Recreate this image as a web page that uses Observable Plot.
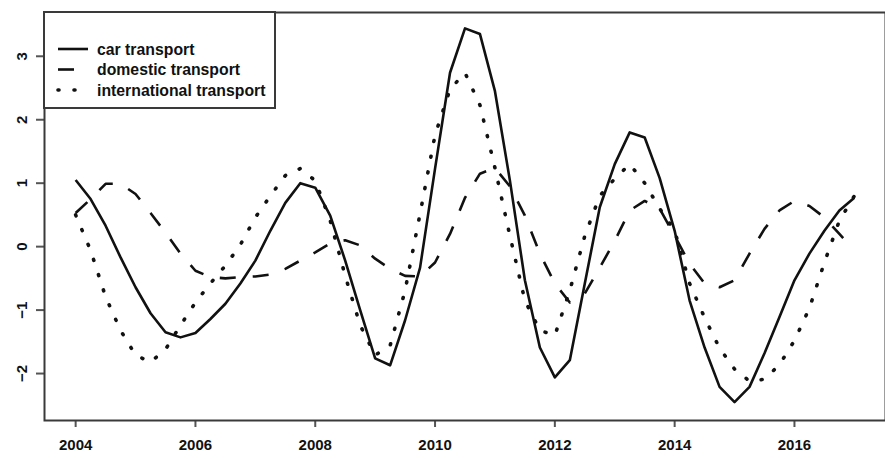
<!DOCTYPE html>
<html><head><meta charset="utf-8">
<script src="https://cdn.jsdelivr.net/npm/d3@7"></script>
<script src="https://cdn.jsdelivr.net/npm/@observablehq/plot@0.6"></script>
<style>body{margin:0;background:#fff} #chart svg{display:block}</style>
</head><body><div id="chart"></div>
<script>
// quarterly index, 2004 Q1 .. 2017 Q1
const quarters = d3.range(0, 53).map(i => 2004 + i / 4);

const car = [
  1.05, 0.75, 0.33, -0.17,
  -0.64, -1.05, -1.35, -1.43,
  -1.36, -1.14, -0.90, -0.58,
  -0.22, 0.25, 0.69, 1.00,
  0.93, 0.49, -0.22, -1.00,
  -1.76, -1.87, -1.16, -0.33,
  1.23, 2.74, 3.44, 3.35,
  2.45, 1.04, -0.53, -1.59,
  -2.06, -1.79, -0.58, 0.62,
  1.30, 1.80, 1.72, 1.08,
  0.25, -0.85, -1.59, -2.21,
  -2.45, -2.21, -1.68, -1.11,
  -0.53, -0.11, 0.25, 0.57,
  0.77
];
const domestic = [
  0.53, 0.75, 0.99, 0.99,
  0.83, 0.53, 0.22, -0.11,
  -0.38, -0.48, -0.50, -0.48,
  -0.47, -0.44, -0.35, -0.22,
  -0.09, 0.05, 0.10, 0.02,
  -0.19, -0.35, -0.46, -0.47,
  -0.25, 0.20, 0.77, 1.15,
  1.24, 0.95, 0.49, -0.11,
  -0.58, -0.88, -0.74, -0.33,
  0.09, 0.57, 0.72, 0.60,
  0.17, -0.27, -0.58, -0.64,
  -0.53, -0.11, 0.28, 0.57,
  0.72, 0.64, 0.46, 0.20,
  -0.06
];
const international = [
  0.50, -0.06, -0.79, -1.32,
  -1.71, -1.82, -1.62, -1.24,
  -0.88, -0.58, -0.30, 0.03,
  0.46, 0.80, 1.12, 1.23,
  1.04, 0.41, -0.46, -1.24,
  -1.71, -1.56, -0.69, 0.52,
  1.76, 2.48, 2.74, 2.23,
  1.24, 0.17, -0.85, -1.32,
  -1.40, -0.69, 0.17, 0.80,
  1.07, 1.30, 1.00, 0.60,
  0.25, -0.58, -1.12, -1.60,
  -1.93, -2.12, -2.09, -1.86,
  -1.48, -0.97, -0.25, 0.41,
  0.80
];

const seriesNames = ["car transport", "domestic transport", "international transport"];
const xTicks = [2004, 2006, 2008, 2010, 2012, 2014, 2016];
const yTicks = [-2, -1, 0, 1, 2, 3];

const styles = [
  {dash: null, cap: "butt", width: 2.6},
  {dash: "16,17", cap: "butt", width: 2.6},
  {dash: "1,15", cap: "round", width: 3.6}
];

const rows = [];
[car, domestic, international].forEach((vals, s) =>
  vals.forEach((v, i) => rows.push({t: quarters[i], v, s: seriesNames[s]})));

const chart = Plot.plot({
  width: 885, height: 459,
  marginLeft: 44, marginTop: 12, marginRight: 0, marginBottom: 39,
  x: {domain: [2003.48, 2017.52]},
  y: {domain: [-2.74, 3.69]},
  style: {fontFamily: "'Liberation Sans', Arial, sans-serif", fontSize: "15px", fontWeight: "bold", background: "#fff", color: "#111"},
  marks: [
    ...seriesNames.map((name, k) => Plot.line(rows.filter(d => d.s === name), {
      x: "t", y: "v", stroke: "#111", strokeWidth: styles[k].width,
      strokeDasharray: styles[k].dash, strokeLinecap: styles[k].cap, strokeLinejoin: "round"
    })),
    Plot.axisX({ticks: xTicks, tickFormat: d => String(d), tickSize: 7, tickPadding: 12, stroke: "#555", strokeWidth: 2, label: null}),
    Plot.axisY({ticks: yTicks, tickFormat: d => d < 0 ? "\u2212" + Math.abs(d) : String(d), tickSize: 8, tickPadding: 10, tickRotate: -90, stroke: "#555", strokeWidth: 2, label: null}),
    Plot.frame({stroke: "#3a3a3a", strokeWidth: 2})
  ]
});
document.getElementById("chart").appendChild(chart);

// legend (R-style box, top-left inside the plot)
const svg = d3.select(chart);
const lg = svg.append("g").attr("text-anchor", "start");
lg.append("rect").attr("x", 44).attr("y", 12).attr("width", 231).attr("height", 96)
  .attr("fill", "#fff").attr("stroke", "#3a3a3a").attr("stroke-width", 2);
seriesNames.forEach((name, k) => {
  const y = 49 + k * 20.5;
  lg.append("line").attr("x1", 58).attr("x2", 88).attr("y1", y).attr("y2", y)
    .attr("stroke", "#111").attr("stroke-width", styles[k].width)
    .attr("stroke-dasharray", styles[k].dash).attr("stroke-linecap", styles[k].cap);
  lg.append("text").attr("x", 97).attr("y", y).attr("dy", "0.35em")
    .attr("text-anchor", "start")
    .attr("font-family", "'Liberation Sans', Arial, sans-serif").attr("font-size", 15.8)
    .attr("font-weight", "bold").attr("fill", "#111").text(name);
});
</script>
</body></html>
